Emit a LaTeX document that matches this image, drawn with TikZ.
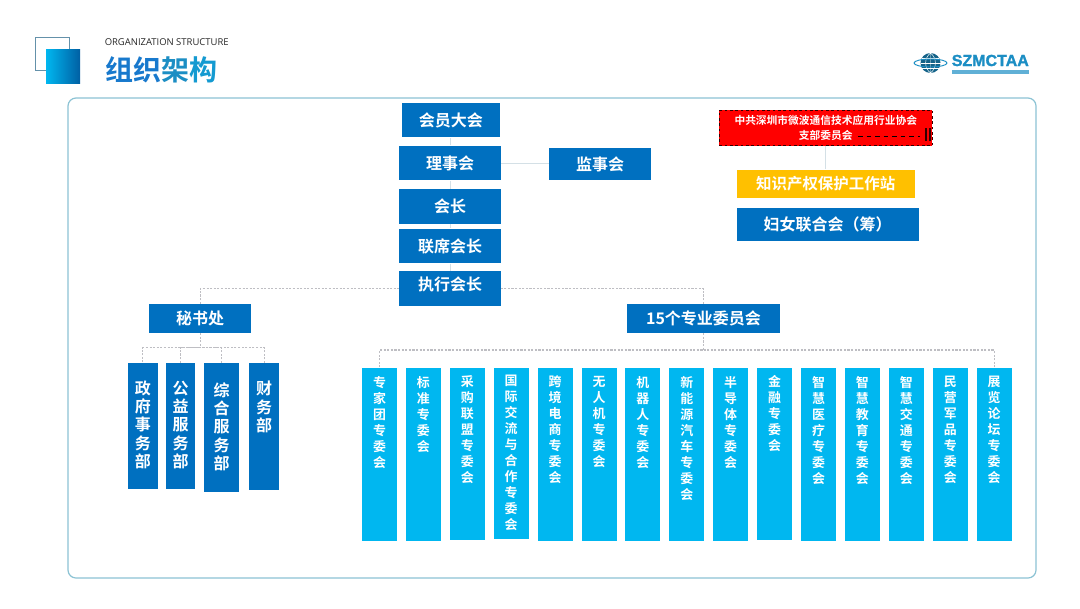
\documentclass[tikz,border=0pt]{standalone}
\usepackage{fontspec}
\usepackage{xcolor}
\setmainfont{Noto Sans CJK SC}[BoldFont={Noto Sans CJK SC Bold}]
\newfontfamily\latinfont{Open Sans}
\newfontfamily\logofont{Liberation Sans}[BoldFont={Liberation Sans Bold},BoldFeatures={FakeBold=1.5}]
\definecolor{cdark}{RGB}{0,112,192}
\definecolor{clight}{RGB}{0,183,240}
\definecolor{cyellow}{RGB}{255,192,0}
\definecolor{cframe}{RGB}{140,195,212}
\definecolor{cicon}{RGB}{100,145,170}
\definecolor{cdash}{RGB}{190,190,195}
\definecolor{csolid}{RGB}{212,224,230}
\definecolor{clogo}{RGB}{28,142,196}
\newlength{\pxu}
\setlength{\pxu}{0.75pt}
\newcommand{\Vlab}[2]{\parbox[c][#1\pxu][t]{20\pxu}{\centering #2}}
\tikzset{
  x=0.75pt,y=-0.75pt,
  hbox/.style={fill=cdark,text=white,font=\bfseries\fontsize{12}{14}\selectfont,inner sep=0pt,align=center},
  dbox/.style={fill=cdark,text=white,font=\bfseries\fontsize{12}{13.7}\selectfont,inner sep=0pt,align=center},
  cbox/.style={fill=clight,text=white,font=\bfseries\fontsize{9.7}{12}\selectfont,inner sep=0pt,align=center,minimum width=35\pxu},
  solidline/.style={draw=csolid,line width=0.75pt},
  dashline/.style={draw=cdash,line width=0.8pt,dash pattern=on 1.6pt off 1.1pt},
}

\begin{document}
\begin{tikzpicture}
    \useasboundingbox (0,0) rectangle (1080,608);
    \fill[white] (0,0) rectangle (1080,608);

    \draw[cframe,line width=0.9pt,rounded corners=6pt,fill=white] (68,98) rectangle (1036,578);

    \draw[cicon,line width=0.6pt] (35,37.5) rectangle (69,70.5);
    \fill[shading angle=150,left color=clight,right color=cdark!85!black] (46,49.5) rectangle (80,83);
    \node[font=\latinfont\fontsize{7.1}{8}\selectfont,anchor=west,inner sep=0pt,text=black!85] (entitle) at (104.5,42) {ORGANIZATION STRUCTURE};
    \node[font=\bfseries\fontsize{21}{24}\selectfont,anchor=west,inner sep=0pt] (title) at (105,70)
      {\textcolor{clogo!85!blue}{组织}\textcolor{clogo}{架}\textcolor{clogo!70!clight}{构}};

    \begin{scope}
      \fill[clogo!70!black] (930.5,63) circle (10);
      \draw[white,line width=0.35pt] (920.5,63) -- (940.5,63) (922,58) -- (939,58) (922,68) -- (939,68);
      \draw[white,line width=0.35pt] (930.5,53) -- (930.5,73) (930.5,53) .. controls (924,58) and (924,68) .. (930.5,73) (930.5,53) .. controls (937,58) and (937,68) .. (930.5,73);
      \draw[clogo,line width=0.7pt] (930.5,63) ellipse (16.5 and 4);
      \node[font=\logofont\bfseries\fontsize{12}{13}\selectfont,text=clogo,anchor=west,inner sep=0pt] (logotext) at (951.5,60.5) {SZMCTAA};
      \fill[clogo!70] (952,69.5) rectangle (1029,71.5);
      \fill[clogo!70] (952,72.3) rectangle (1029,74);
    \end{scope}

    \node[hbox,minimum width=98.5\pxu,minimum height=34.5\pxu] (huiyuan) at (450.75,120) {会员大会};
    \node[hbox,minimum width=102\pxu,minimum height=34.5\pxu] (lishi) at (450,163) {理事会};
    \node[hbox,minimum width=102\pxu,minimum height=34.5\pxu] (huizhang) at (450,206.3) {会长};
    \node[hbox,minimum width=102\pxu,minimum height=34.5\pxu] (lianxi) at (450,246) {联席会长};
    \node[hbox,minimum width=102\pxu,minimum height=35\pxu,text height=12\pxu,text depth=8\pxu] (zhixing) at (450,288.5) {执行会长};
    \node[hbox,minimum width=102\pxu,minimum height=32\pxu] (jianshi) at (600,164) {监事会};

    \node[fill=red,draw=black!80!red,dash pattern=on 2pt off 2pt,line width=0.6pt,text=white,font=\bfseries\fontsize{8.05}{11.8}\selectfont,inner sep=0pt,align=center,minimum width=213\pxu,minimum height=35.5\pxu] (dangzhi) at (825.75,128)
      {中共深圳市微波通信技术应用行业协会\\支部委员会};
    \coordinate (dashleft) at (858,136.7);
    \coordinate (dashright) at (920,136.7);
    \draw[black,line width=1pt,dash pattern=on 3.4pt off 3pt] (dashleft) -- (dashright);
    \draw[black!80!red,line width=0.8pt] (926,128) -- (926,141) (930,128) -- (930,141);
    \node[hbox,fill=cyellow,font=\bfseries\fontsize{11.6}{14}\selectfont,minimum width=178\pxu,minimum height=28.6\pxu] (zhishi) at (825.7,184) {知识产权保护工作站};
    \node[hbox,minimum width=182\pxu,minimum height=32.4\pxu] (funv) at (827.7,224.5) {妇女联合会（筹）};

    \node[hbox,minimum width=101.7\pxu,minimum height=28.7\pxu] (mishu) at (200.2,318.4) {秘书处};
    \node[hbox,minimum width=153\pxu,minimum height=29\pxu] (zhuanwei) at (703.5,318.5) {15个专业委员会};

    \node[dbox,minimum width=29.7\pxu,minimum height=126.3\pxu] (zhengfu) at (142.85,425.85) {\Vlab{90}{政\\府\\事\\务\\部}};
    \node[dbox,minimum width=29.6\pxu,minimum height=126\pxu] (gongyi) at (180.5,426) {\Vlab{90}{公\\益\\服\\务\\部}};
    \node[dbox,minimum width=35.3\pxu,minimum height=128.4\pxu] (zonghe) at (221.65,427.5) {\Vlab{90}{综\\合\\服\\务\\部}};
    \node[dbox,minimum width=29.7\pxu,minimum height=126.2\pxu] (caiwu) at (264.15,426.4) {\Vlab{90}{财\\务\\部}};

    \node[cbox,minimum height=173.6\pxu] (zhuanjia) at (379.5,454.5) {\Vlab{157}{专\\家\\团\\专\\委\\会}};
    \node[cbox,minimum height=173.6\pxu] (biaozhun) at (423.4,454.5) {\Vlab{157}{标\\准\\专\\委\\会}};
    \node[cbox,minimum height=171.8\pxu] (caigou) at (467.3,453.6) {\Vlab{157}{采\\购\\联\\盟\\专\\委\\会}};
    \node[cbox,minimum height=171.3\pxu] (guoji) at (511.2,453.35) {\Vlab{157}{国\\际\\交\\流\\与\\合\\作\\专\\委\\会}};
    \node[cbox,minimum height=173.6\pxu] (kuajing) at (555.1,454.5) {\Vlab{157}{跨\\境\\电\\商\\专\\委\\会}};
    \node[cbox,minimum height=173.6\pxu] (wuren) at (599,454.5) {\Vlab{157}{无\\人\\机\\专\\委\\会}};
    \node[cbox,minimum height=173.6\pxu] (jiqi) at (642.9,454.5) {\Vlab{157}{机\\器\\人\\专\\委\\会}};
    \node[cbox,minimum height=173.6\pxu] (xinneng) at (686.8,454.5) {\Vlab{157}{新\\能\\源\\汽\\车\\专\\委\\会}};
    \node[cbox,minimum height=173.6\pxu] (bandao) at (730.7,454.5) {\Vlab{157}{半\\导\\体\\专\\委\\会}};
    \node[cbox,minimum height=172.3\pxu] (jinrong) at (774.6,453.85) {\Vlab{157}{金\\融\\专\\委\\会}};
    \node[cbox,minimum height=173.6\pxu] (yiliao) at (818.5,454.5) {\Vlab{157}{智\\慧\\医\\疗\\专\\委\\会}};
    \node[cbox,minimum height=173.6\pxu] (jiaoyu) at (862.4,454.5) {\Vlab{157}{智\\慧\\教\\育\\专\\委\\会}};
    \node[cbox,minimum height=173.6\pxu] (jiaotong) at (906.3,454.5) {\Vlab{157}{智\\慧\\交\\通\\专\\委\\会}};
    \node[cbox,minimum height=173.6\pxu] (minying) at (950.2,454.5) {\Vlab{157}{民\\营\\军\\品\\专\\委\\会}};
    \node[cbox,minimum height=173.6\pxu] (zhanlan) at (994.1,454.5) {\Vlab{157}{展\\览\\论\\坛\\专\\委\\会}};

    \draw[solidline] (lishi.north) -- (lishi.north |- huiyuan.south);
    \draw[solidline] (lishi.south) -- (huizhang.north);
    \draw[solidline] (huizhang.south) -- (lianxi.north);
    \draw[solidline] (lianxi.south) -- (zhixing.north);
    \draw[solidline] (lishi.east) -- (lishi.east -| jianshi.west);
    \draw[solidline] (dangzhi.south) -- (dangzhi.south |- zhishi.north);

    \draw[dashline] (mishu.north) |- (zhixing.west);
    \draw[dashline] (zhuanwei.north) |- (zhixing.east);

    \coordinate (mishubus) at (200.2,347.5);
    \draw[dashline] (mishu.south) -- (mishubus);
    \draw[dashline] (zhengfu.north) |- (mishubus);
    \draw[dashline] (gongyi.north) |- (mishubus);
    \draw[dashline] (zonghe.north) |- (mishubus);
    \draw[dashline] (caiwu.north) |- (mishubus);

    \coordinate (weibus) at (703.5,350);
    \draw[dashline] (zhuanwei.south) -- (weibus);
    \draw[dashline] (zhuanjia.north) |- (weibus);
    \draw[dashline] (zhanlan.north) |- (weibus);
\end{tikzpicture}
\end{document}
